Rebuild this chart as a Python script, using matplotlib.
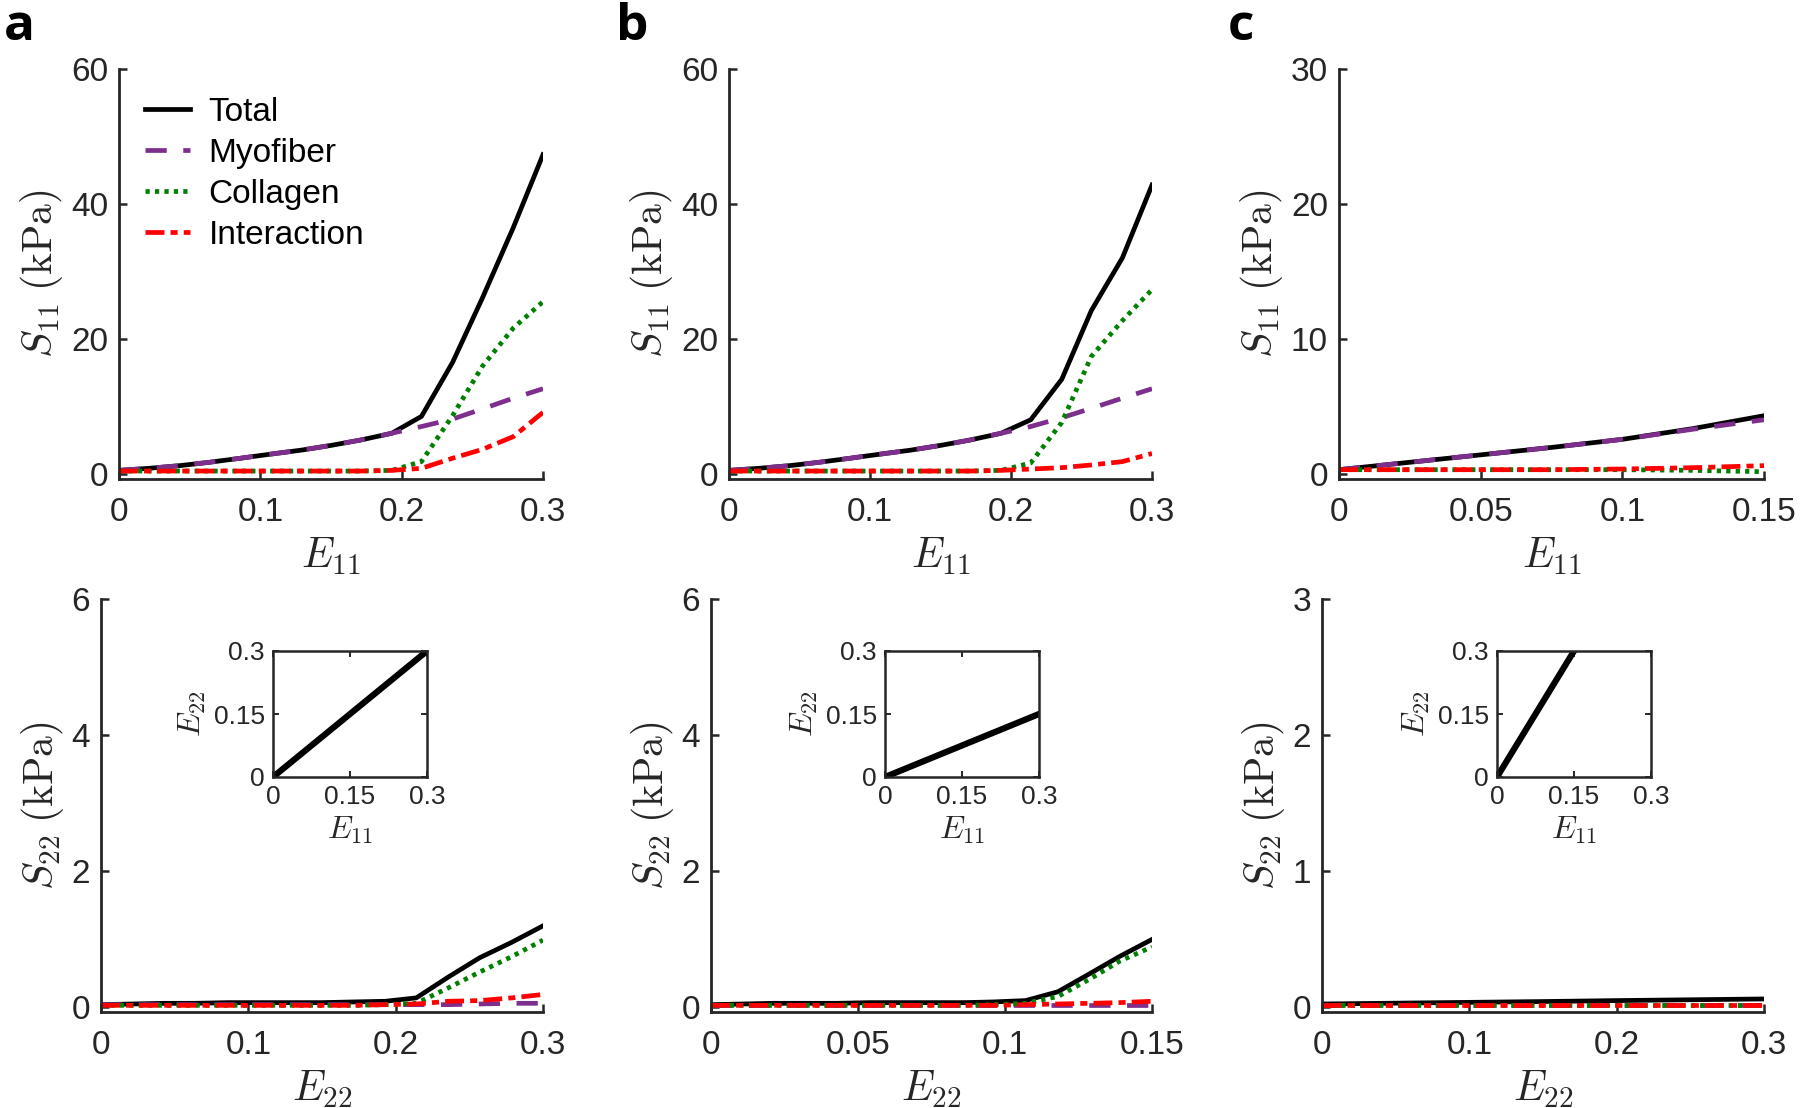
import matplotlib.pyplot as plt

plt.rcParams['font.family'] = ['Liberation Sans', 'DejaVu Sans']
plt.rcParams['mathtext.fontset'] = 'cm'

AX_COLOR = '#262626'
C_TOTAL = 'black'
C_MYO = '#7E2F8E'
C_COL = '#008000'
C_INT = '#FF0000'

# ---- panel a (top): S11 vs E11 ----
a_e11 = [0, 0.021, 0.043, 0.064, 0.086, 0.107, 0.129, 0.15, 0.171, 0.193, 0.214, 0.236, 0.257, 0.279, 0.3]
a_s11_total = [0.5, 0.8, 1.2, 1.7, 2.3, 2.9, 3.5, 4.2, 5.0, 6.0, 8.5, 16.5, 26.0, 36.5, 47.3]
a_s11_myo = [0.5, 0.8, 1.2, 1.7, 2.3, 2.9, 3.5, 4.2, 5.0, 6.0, 7.0, 8.1, 9.6, 11.2, 12.6]
a_s11_col = [0.4, 0.4, 0.4, 0.4, 0.4, 0.4, 0.4, 0.4, 0.4, 0.5, 1.8, 8.6, 15.9, 21.6, 25.5]
a_s11_int = [0.4, 0.4, 0.4, 0.4, 0.4, 0.4, 0.4, 0.4, 0.4, 0.5, 0.8, 2.3, 3.6, 5.5, 9.1]

# ---- panel b (top) ----
b_e11 = [0, 0.021, 0.043, 0.064, 0.086, 0.107, 0.129, 0.15, 0.171, 0.193, 0.214, 0.236, 0.257, 0.279, 0.3]
b_s11_total = [0.5, 0.8, 1.2, 1.7, 2.3, 2.9, 3.5, 4.2, 5.0, 6.0, 8.0, 14.0, 24.2, 32.0, 42.8]
b_s11_myo = [0.5, 0.8, 1.2, 1.7, 2.3, 2.9, 3.5, 4.2, 5.0, 6.0, 7.0, 8.3, 9.7, 11.2, 12.6]
b_s11_col = [0.4, 0.4, 0.4, 0.4, 0.4, 0.4, 0.4, 0.4, 0.4, 0.5, 1.6, 7.6, 17.4, 22.7, 27.3]
b_s11_int = [0.4, 0.4, 0.4, 0.4, 0.4, 0.4, 0.4, 0.4, 0.4, 0.5, 0.7, 0.9, 1.3, 1.8, 3.0]

# ---- panel c (top) ----
c_e11 = [0, 0.025, 0.05, 0.075, 0.1, 0.125, 0.15]
c_s11_total = [0.3, 0.85, 1.4, 1.95, 2.55, 3.35, 4.3]
c_s11_myo = [0.3, 0.85, 1.4, 1.95, 2.55, 3.3, 4.0]
c_s11_col = [0.3, 0.3, 0.3, 0.3, 0.3, 0.25, 0.15]
c_s11_int = [0.3, 0.3, 0.3, 0.3, 0.35, 0.45, 0.6]

# ---- panel a (bottom): S22 vs E22 ----
a_e22 = [0, 0.021, 0.043, 0.064, 0.086, 0.107, 0.129, 0.15, 0.171, 0.193, 0.214, 0.236, 0.257, 0.279, 0.3]
a_s22_total = [0.03, 0.04, 0.05, 0.05, 0.06, 0.06, 0.06, 0.06, 0.07, 0.08, 0.13, 0.44, 0.72, 0.95, 1.19]
a_s22_myo = [0.03, 0.03, 0.03, 0.03, 0.03, 0.03, 0.03, 0.03, 0.03, 0.03, 0.03, 0.03, 0.04, 0.05, 0.05]
a_s22_col = [0.02, 0.02, 0.02, 0.02, 0.02, 0.02, 0.02, 0.02, 0.02, 0.03, 0.05, 0.28, 0.51, 0.74, 0.98]
a_s22_int = [0.02, 0.02, 0.02, 0.02, 0.02, 0.02, 0.02, 0.02, 0.02, 0.03, 0.04, 0.08, 0.09, 0.13, 0.18]

# ---- panel b (bottom) ----
b_e22 = [0, 0.011, 0.021, 0.032, 0.043, 0.054, 0.064, 0.075, 0.086, 0.096, 0.107, 0.118, 0.129, 0.139, 0.15]
b_s22_total = [0.03, 0.04, 0.05, 0.05, 0.05, 0.06, 0.06, 0.06, 0.06, 0.07, 0.09, 0.22, 0.49, 0.74, 0.99]
b_s22_myo = [0.03, 0.03, 0.03, 0.03, 0.03, 0.03, 0.03, 0.03, 0.03, 0.03, 0.03, 0.03, 0.03, 0.03, 0.03]
b_s22_col = [0.02, 0.02, 0.02, 0.02, 0.02, 0.02, 0.02, 0.02, 0.02, 0.03, 0.05, 0.15, 0.41, 0.67, 0.88]
b_s22_int = [0.02, 0.02, 0.02, 0.02, 0.02, 0.02, 0.02, 0.02, 0.02, 0.02, 0.03, 0.04, 0.05, 0.06, 0.08]

# ---- panel c (bottom) ----
c_e22 = [0, 0.05, 0.1, 0.15, 0.2, 0.25, 0.3]
c_s22_total = [0.02, 0.026, 0.032, 0.038, 0.045, 0.051, 0.057]
c_s22_myo = [0.015, 0.015, 0.015, 0.015, 0.015, 0.015, 0.015]
c_s22_col = [0.015, 0.015, 0.015, 0.015, 0.015, 0.015, 0.015]
c_s22_int = [0.015, 0.015, 0.015, 0.015, 0.015, 0.015, 0.015]

# ---- insets: E22 vs E11 ----
a_inset_e11 = [0, 0.3]
a_inset_e22 = [0, 0.3]
b_inset_e11 = [0, 0.3]
b_inset_e22 = [0, 0.15]
c_inset_e11 = [0, 0.15]
c_inset_e22 = [0, 0.3]

series_labels = ['Total', 'Myofiber', 'Collagen', 'Interaction']

LW = 3.4
styles = [
    dict(color=C_TOTAL, linestyle='-'),
    dict(color=C_MYO, dashes=(4.5, 3.5)),
    dict(color=C_COL, dashes=(0.9, 1.1)),
    dict(color=C_INT, dashes=(4.0, 1.3, 1.5, 1.3)),
]

W, H = 1800, 1108
fig = plt.figure(figsize=(W / 100, H / 100), dpi=100)


def px_axes(x0, x1, y0, y1):
    return fig.add_axes([x0 / W, 1 - y1 / H, (x1 - x0) / W, (y1 - y0) / H])


def style_main(ax, xlim, xticks, xticklabels, ylim_top, yticks, xlabel, ylabel):
    ax.set_xlim(*xlim)
    ax.set_ylim(-0.013 * ylim_top, ylim_top)
    ax.set_xticks(xticks)
    ax.set_xticklabels(xticklabels)
    ax.set_yticks(yticks)
    for s in ['top', 'right']:
        ax.spines[s].set_visible(False)
    for s in ['left', 'bottom']:
        ax.spines[s].set_linewidth(2.0)
        ax.spines[s].set_color(AX_COLOR)
    ax.tick_params(direction='in', length=6, width=1.8, colors=AX_COLOR,
                   labelsize=24, labelcolor=AX_COLOR)
    ax.tick_params(axis='x', pad=13)
    ax.tick_params(axis='y', pad=8)
    ax.set_xlabel(xlabel, fontsize=30, color=AX_COLOR, labelpad=6)
    ax.set_ylabel(ylabel, fontsize=30, color=AX_COLOR, labelpad=4)


def draw_lines(ax, x, ys):
    handles = []
    for y, st, lab in zip(ys, styles, series_labels):
        h, = ax.plot(x, y, lw=LW, label=lab, **st)
        handles.append(h)
    return handles


def draw_inset(x0, x1, y0, y1, xs, ys):
    ins = px_axes(x0, x1, y0, y1)
    ins.plot(xs, ys, color='black', lw=4.5)
    ins.set_xlim(0, 0.3)
    ins.set_ylim(0, 0.3)
    ins.set_xticks([0, 0.15, 0.3])
    ins.set_xticklabels(['0', '0.15', '0.3'])
    ins.set_yticks([0, 0.15, 0.3])
    ins.set_yticklabels(['0', '0.15', '0.3'])
    for s in ins.spines.values():
        s.set_linewidth(1.8)
        s.set_color(AX_COLOR)
    ins.tick_params(direction='in', length=4, width=1.4, colors=AX_COLOR,
                    labelsize=19, labelcolor=AX_COLOR, top=True, right=True, pad=6)
    ins.set_xlabel(r'$E_{11}$', fontsize=23, color=AX_COLOR, labelpad=4)
    ins.set_ylabel(r'$E_{22}$', fontsize=23, color=AX_COLOR, labelpad=4)


S11 = r'$S_{11}\;(\mathrm{kPa})$'
S22 = r'$S_{22}\;(\mathrm{kPa})$'
E11 = r'$E_{11}$'
E22 = r'$E_{22}$'

# top row
ax = px_axes(119, 543, 69, 479)
hs = draw_lines(ax, a_e11, [a_s11_total, a_s11_myo, a_s11_col, a_s11_int])
style_main(ax, (0, 0.3), [0, 0.1, 0.2, 0.3], ['0', '0.1', '0.2', '0.3'], 60, [0, 20, 40, 60], E11, S11)
ax.legend(handles=hs, loc='upper left', bbox_to_anchor=(0.03, 0.965), frameon=False,
          fontsize=24, handlelength=1.35, handletextpad=0.55, labelspacing=0.3, borderaxespad=0)

ax = px_axes(729, 1152, 69, 479)
draw_lines(ax, b_e11, [b_s11_total, b_s11_myo, b_s11_col, b_s11_int])
style_main(ax, (0, 0.3), [0, 0.1, 0.2, 0.3], ['0', '0.1', '0.2', '0.3'], 60, [0, 20, 40, 60], E11, S11)

ax = px_axes(1339, 1764, 69, 479)
draw_lines(ax, c_e11, [c_s11_total, c_s11_myo, c_s11_col, c_s11_int])
style_main(ax, (0, 0.15), [0, 0.05, 0.1, 0.15], ['0', '0.05', '0.1', '0.15'], 30, [0, 10, 20, 30], E11, S11)

# bottom row
ax = px_axes(101, 543, 599, 1012)
draw_lines(ax, a_e22, [a_s22_total, a_s22_myo, a_s22_col, a_s22_int])
style_main(ax, (0, 0.3), [0, 0.1, 0.2, 0.3], ['0', '0.1', '0.2', '0.3'], 6, [0, 2, 4, 6], E22, S22)

ax = px_axes(711, 1152, 599, 1012)
draw_lines(ax, b_e22, [b_s22_total, b_s22_myo, b_s22_col, b_s22_int])
style_main(ax, (0, 0.15), [0, 0.05, 0.1, 0.15], ['0', '0.05', '0.1', '0.15'], 6, [0, 2, 4, 6], E22, S22)

ax = px_axes(1322, 1764, 599, 1012)
draw_lines(ax, c_e22, [c_s22_total, c_s22_myo, c_s22_col, c_s22_int])
style_main(ax, (0, 0.3), [0, 0.1, 0.2, 0.3], ['0', '0.1', '0.2', '0.3'], 3, [0, 1, 2, 3], E22, S22)

# insets
draw_inset(273, 427, 651, 777, a_inset_e11, a_inset_e22)
draw_inset(885, 1039, 651, 777, b_inset_e11, b_inset_e22)
draw_inset(1497, 1651, 651, 777, c_inset_e11, c_inset_e22)

# panel letters
for x, letter in [(4, 'a'), (616, 'b'), (1228, 'c')]:
    fig.text(x / W, 1 - 2 / H, letter, fontsize=37, fontweight='bold',
             family=['Open Sans', 'DejaVu Sans'], va='top', ha='left')

fig.savefig('out.png', dpi=100)
